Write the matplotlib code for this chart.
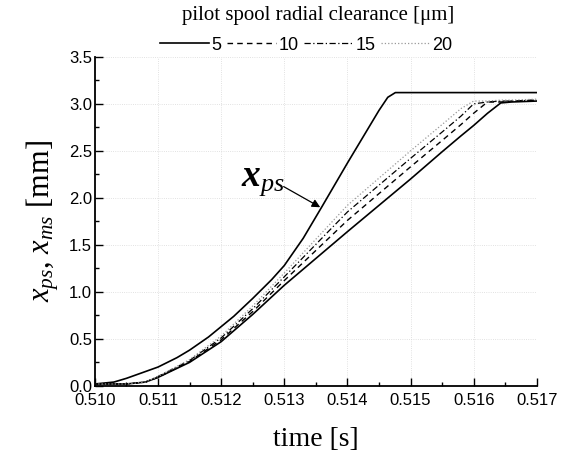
import matplotlib
matplotlib.use("Agg")
import matplotlib.pyplot as plt
from matplotlib.ticker import MultipleLocator

plt.rcParams["font.family"] = "Liberation Sans"
plt.rcParams["mathtext.fontset"] = "custom"
plt.rcParams["mathtext.rm"] = "Liberation Serif"
plt.rcParams["mathtext.it"] = "Liberation Serif:italic"
plt.rcParams["mathtext.bf"] = "Liberation Serif:bold:italic"

# pilot spool displacement (same for all clearances)
t_ps = [0.5100, 0.5103, 0.5105, 0.5110, 0.5113, 0.5115, 0.5118, 0.5120,
        0.5122, 0.5125, 0.5128, 0.5130, 0.5133, 0.5136, 0.5140, 0.5145,
        0.51464, 0.51476, 0.5170]
x_ps = [0.02, 0.04, 0.08, 0.20, 0.30, 0.38, 0.52, 0.63,
        0.74, 0.93, 1.13, 1.28, 1.57, 1.91, 2.37, 2.93,
        3.07, 3.12, 3.12]

# main spool displacement for each pilot spool radial clearance [um]
t_ms = [0.5100, 0.5105, 0.5108, 0.5110, 0.5115, 0.5120, 0.5125, 0.5130,
        0.5140, 0.5150, 0.5155, 0.5158, 0.5160, 0.51622, 0.51643, 0.5166, 0.5170]
x_ms_5 = [0.02, 0.02, 0.04, 0.09, 0.25, 0.47, 0.76, 1.07,
          1.64, 2.20, 2.49, 2.66, 2.77, 2.90, 3.01, 3.02, 3.03]
x_ms_10 = [0.02, 0.02, 0.04, 0.09, 0.26, 0.49, 0.79, 1.12,
           1.76, 2.33, 2.61, 2.78, 2.90, 3.02, 3.02, 3.03, 3.04]
x_ms_15 = [0.02, 0.02, 0.04, 0.10, 0.27, 0.51, 0.82, 1.16,
           1.85, 2.42, 2.70, 2.87, 3.00, 3.02, 3.03, 3.03, 3.04]
x_ms_20 = [0.02, 0.02, 0.04, 0.10, 0.28, 0.53, 0.85, 1.20,
           1.92, 2.50, 2.78, 2.95, 3.03, 3.03, 3.04, 3.04, 3.05]

clearances = ["5", "10", "15", "20"]

fig = plt.figure(figsize=(5.65, 4.55), dpi=100)
ax = fig.add_axes([0.168, 0.152, 0.782, 0.723])

ax.plot(t_ps, x_ps, "-", color="black", lw=1.2)
l1, = ax.plot(t_ms, x_ms_5, "-", color="black", lw=1.2, label=clearances[0])
l2, = ax.plot(t_ms, x_ms_10, "--", color="black", lw=1.0, label=clearances[1],
              dashes=(4, 3))
l3, = ax.plot(t_ms, x_ms_15, "-.", color="black", lw=0.9, label=clearances[2],
              dashes=(5, 2, 1, 2))
l4, = ax.plot(t_ms, x_ms_20, ":", color="#999999", lw=0.9, label=clearances[3])

ax.set_xlim(0.510, 0.517)
ax.set_ylim(0.0, 3.5)
ax.xaxis.set_major_locator(MultipleLocator(0.001))
ax.xaxis.set_minor_locator(MultipleLocator(0.0005))
ax.yaxis.set_major_locator(MultipleLocator(0.5))
ax.yaxis.set_minor_locator(MultipleLocator(0.25))
ax.xaxis.set_major_formatter(plt.FuncFormatter(lambda v, p: f"{v:.3f}"))
ax.yaxis.set_major_formatter(plt.FuncFormatter(lambda v, p: f"{v:.1f}"))

ax.tick_params(which="both", direction="in", labelsize=12, width=1.0)
ax.tick_params(which="major", length=6)
ax.tick_params(which="minor", length=3)
ax.tick_params(axis="x", pad=5)
ax.tick_params(axis="y", pad=2)
for s in ["top", "right"]:
    ax.spines[s].set_visible(False)
for s in ["left", "bottom"]:
    ax.spines[s].set_linewidth(1.3)

ax.grid(True, which="major", color="#d8d8d8", linestyle=":", lw=0.6)

ax.set_xlabel("time [s]", family="Liberation Serif", fontsize=20, labelpad=14)
ax.set_ylabel(r"$x_{ps}$, $x_{ms}$ [mm]", family="Liberation Serif",
              fontsize=22, labelpad=6)

# label and arrow for the pilot spool curve
ax.text(0.51267, 2.19, r"$\mathbf{x}_{ps}$", fontsize=27,
        ha="center", va="center")
ax.annotate("", xy=(0.51357, 1.90), xytext=(0.51299, 2.12),
            arrowprops=dict(arrowstyle="-|>", color="black", lw=0.9,
                            shrinkA=0, shrinkB=0, mutation_scale=12))

fig.legend(handles=[l1, l2, l3, l4], loc="upper center",
           bbox_to_anchor=(0.542, 0.947), ncol=4, frameon=False,
           fontsize=13, handlelength=2.7, handletextpad=0.15,
           columnspacing=0.3, borderpad=0.2)
fig.text(0.563, 0.967, "pilot spool radial clearance [\u03bcm]",
         family="Liberation Serif", fontsize=15, ha="center", va="center")

fig.savefig("out.png", dpi=100)
